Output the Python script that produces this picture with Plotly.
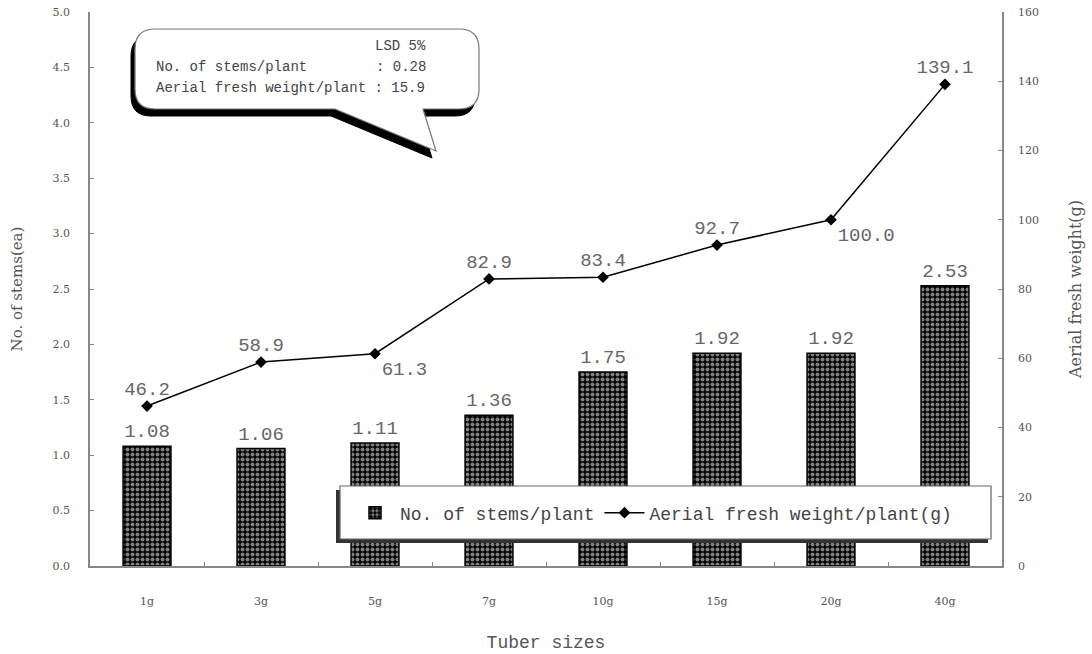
import plotly.graph_objects as go

categories = ["1g", "3g", "5g", "7g", "10g", "15g", "20g", "40g"]
stems = [1.08, 1.06, 1.11, 1.36, 1.75, 1.92, 1.92, 2.53]
weight = [46.2, 58.9, 61.3, 82.9, 83.4, 92.7, 100.0, 139.1]
weight_textpos = ["top center", "top center", "bottom right", "top center",
                  "top center", "top center", "bottom right", "top center"]

W, H = 1092, 654
L, R, T, B = 90, 1002, 12, 566

def px(x):
    return (x - L) / (R - L)

def py(y):
    return (B - y) / (B - T)

FONT = "DejaVu Serif"
MONO = "Liberation Mono"
GRAY = "#555555"
LABEL_FONT = dict(size=19, color="#666666", family=MONO)

fig = go.Figure()
fig.add_trace(go.Bar(
    x=categories, y=stems, name="No. of stems/plant",
    width=0.42,
    marker=dict(color="black", line=dict(color="black", width=1.5),
                pattern=dict(shape=".", fgcolor="white", bgcolor="black",
                             size=5, solidity=0.5)),
    text=[f"{v:.2f}" for v in stems], textposition="outside",
    textfont=LABEL_FONT,
    cliponaxis=False, showlegend=True,
))
fig.add_trace(go.Scatter(
    x=categories, y=weight, name="Aerial fresh weight/plant(g)",
    yaxis="y2", mode="lines+markers+text",
    line=dict(color="black", width=1.5),
    marker=dict(symbol="diamond", size=9, color="black"),
    text=[f"{v:.1f}" for v in weight], textposition=weight_textpos,
    textfont=LABEL_FONT,
    cliponaxis=False,
))

# Callout bubble
def bubble_path(dx=0, dy=0):
    x0, x1, y0, y1, r = 135 + dx, 479 + dx, 29 + dy, 109 + dy, 20
    tx1, tx2, tip = 335 + dx, 423 + dx, (436 + dx, 151 + dy)

    def P(x, y):
        return f"{px(x):.5f},{py(y):.5f}"
    path = (f"M {P(x0 + r, y0)} L {P(x1 - r, y0)} Q {P(x1, y0)} {P(x1, y0 + r)} "
            f"L {P(x1, y1 - r)} Q {P(x1, y1)} {P(x1 - r, y1)} "
            f"L {P(tx2, y1)} L {P(*tip)} L {P(tx1, y1)} "
            f"L {P(x0 + r, y1)} Q {P(x0, y1)} {P(x0, y1 - r)} "
            f"L {P(x0, y0 + r)} Q {P(x0, y0)} {P(x0 + r, y0)} Z")
    return path

shapes = [
    dict(type="path", xref="paper", yref="paper", path=bubble_path(-4, 7),
         fillcolor="black", line=dict(color="black", width=1), layer="above"),
    dict(type="path", xref="paper", yref="paper", path=bubble_path(),
         fillcolor="white", line=dict(color="#777777", width=1.2), layer="above"),
    # legend box with shadow
    dict(type="rect", xref="paper", yref="paper",
         x0=px(336), x1=px(988), y0=py(543), y1=py(490),
         fillcolor="#333333", line=dict(width=0), layer="above"),
    dict(type="rect", xref="paper", yref="paper",
         x0=px(340), x1=px(991), y0=py(539), y1=py(486),
         fillcolor="white", line=dict(color="#666666", width=1.2), layer="above"),
]

BUBBLE_FONT = dict(family=MONO, size=14, color="#444444")
annotations = [
    dict(xref="paper", yref="paper", x=px(428), y=py(46), xanchor="right", yanchor="middle",
         text="LSD 5%", showarrow=False, font=BUBBLE_FONT),
    dict(xref="paper", yref="paper", x=px(154), y=py(67), xanchor="left", yanchor="middle",
         text="No. of stems/plant", showarrow=False, font=BUBBLE_FONT),
    dict(xref="paper", yref="paper", x=px(428), y=py(67), xanchor="right", yanchor="middle",
         text=": 0.28", showarrow=False, font=BUBBLE_FONT),
    dict(xref="paper", yref="paper", x=px(154), y=py(88), xanchor="left", yanchor="middle",
         text="Aerial fresh weight/plant : 15.9", showarrow=False, font=BUBBLE_FONT),
]

fig.update_layout(
    width=W, height=H,
    margin=dict(l=L, r=W - R, t=T, b=H - B, autoexpand=False),
    paper_bgcolor="white", plot_bgcolor="white",
    font=dict(family=FONT, color=GRAY),
    shapes=shapes, annotations=annotations,
    showlegend=True,
    legend=dict(orientation="h", x=px(350), y=py(513), xanchor="left", yanchor="middle",
                bgcolor="rgba(0,0,0,0)", borderwidth=0,
                font=dict(family=MONO, size=18, color="#444444"),
                itemwidth=40, tracegroupgap=0),
    xaxis=dict(
        type="category", tickson="boundaries", ticks="inside", ticklen=4,
        tickcolor="#888888", showline=True, linecolor="#888888", linewidth=1.5,
        tickfont=dict(size=11, color=GRAY), ticklabelstandoff=24, automargin=False,
        title=dict(text="Tuber sizes", font=dict(family=MONO, size=18, color=GRAY), standoff=28),
        showgrid=False,
    ),
    yaxis=dict(
        range=[0, 5], dtick=0.5, tickformat=".1f", ticks="inside", ticklen=4,
        tickcolor="#888888", showline=True, linecolor="#888888", linewidth=1.5,
        tickfont=dict(size=11, color=GRAY), ticklabelstandoff=16, automargin=False,
        title=dict(text="No. of stems(ea)", font=dict(size=15, color=GRAY), standoff=26),
        showgrid=False, zeroline=False,
    ),
    yaxis2=dict(
        range=[0, 160], dtick=20, overlaying="y", side="right", ticks="inside", ticklen=4,
        tickcolor="#888888", showline=True, linecolor="#888888", linewidth=1.5,
        tickfont=dict(size=11, color=GRAY), ticklabelstandoff=12, automargin=False,
        title=dict(text="Aerial fresh weight(g)", font=dict(size=16, color=GRAY), standoff=32),
        showgrid=False, zeroline=False,
    ),
)

fig.write_html("out.html")
